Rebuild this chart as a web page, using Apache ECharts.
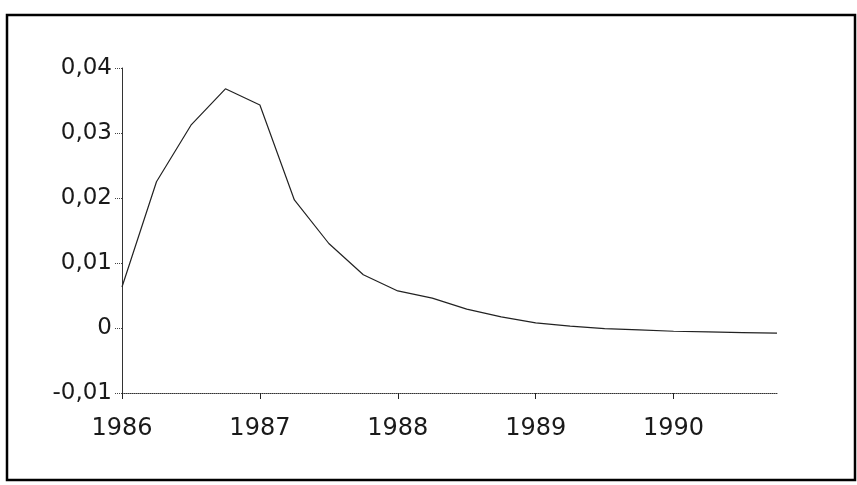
<!DOCTYPE html>
<html lang="en">
  <head>
    <meta charset="UTF-8" />
    <title>Quarterly response</title>
    <style>
      html, body { margin: 0; padding: 0; background: #fff; }
      #chart { width: 857px; height: 485px; }
    </style>
  </head>
  <body>
    <div id="chart"></div>

    <script src="https://cdn.jsdelivr.net/npm/echarts@6.0.0/dist/echarts.min.js"></script>
    <script>
      // quarterly points
      const quarters = [
        1986, 1986.25, 1986.5, 1986.75,
        1987, 1987.25, 1987.5, 1987.75,
        1988, 1988.25, 1988.5, 1988.75,
        1989, 1989.25, 1989.5, 1989.75,
        1990, 1990.25, 1990.5, 1990.75
      ];
      const values = [
        0.0063, 0.0225, 0.0312, 0.0368,
        0.0343, 0.0197, 0.0130, 0.0082,
        0.0057, 0.0046, 0.0029, 0.0017,
        0.0008, 0.0003, -0.0001, -0.0003,
        -0.0005, -0.0006, -0.0007, -0.0008
      ];
      const yearTicks = [1986, 1987, 1988, 1989, 1990];
      const yTicks = [-0.01, 0, 0.01, 0.02, 0.03, 0.04];
      const yTickLabels = ['-0,01', '0', '0,01', '0,02', '0,03', '0,04'];

      const chart = echarts.init(document.getElementById('chart'));

      const option = {
        backgroundColor: '#fff',
        animation: false,
        grid: { left: 122, right: 80, top: 68, bottom: 92 },
        xAxis: {
          type: 'value',
          min: 1986,
          max: 1990.75,
          interval: 1,
          axisLine: { onZero: false, lineStyle: { color: '#333', width: 1, type: 'dotted' } },
          axisTick: { customValues: yearTicks, length: 6, lineStyle: { color: '#222' } },
          axisLabel: {
            customValues: yearTicks,
            margin: 24,
            color: '#1a1a1a',
            fontFamily: 'DejaVu Sans',
            fontSize: 24,
            formatter: (v) => String(v)
          },
          splitLine: { show: false }
        },
        yAxis: {
          type: 'value',
          min: -0.01,
          max: 0.04,
          interval: 0.01,
          axisLine: { show: true, lineStyle: { color: '#333', width: 1 } },
          axisTick: { show: true, customValues: yTicks, length: 7, lineStyle: { color: '#444', type: 'dotted' } },
          axisLabel: {
            customValues: yTicks,
            margin: 10,
            padding: [0, 0, 10, 0],
            color: '#1a1a1a',
            fontFamily: 'DejaVu Sans',
            fontSize: 23,
            formatter: (v) => {
              const i = yTicks.findIndex((t) => Math.abs(t - v) < 1e-9);
              return i >= 0 ? yTickLabels[i] : '';
            }
          },
          splitLine: { show: false }
        },
        graphic: [
          {
            type: 'rect',
            shape: { x: 7, y: 15, width: 848, height: 465 },
            style: { fill: 'none', stroke: '#000', lineWidth: 2.5 },
            silent: true
          }
        ],
        series: [
          {
            type: 'line',
            data: quarters.map((q, i) => [q, values[i]]),
            showSymbol: false,
            lineStyle: { color: '#222', width: 1.2 }
          }
        ]
      };

      chart.setOption(option);
    </script>
  </body>
</html>
